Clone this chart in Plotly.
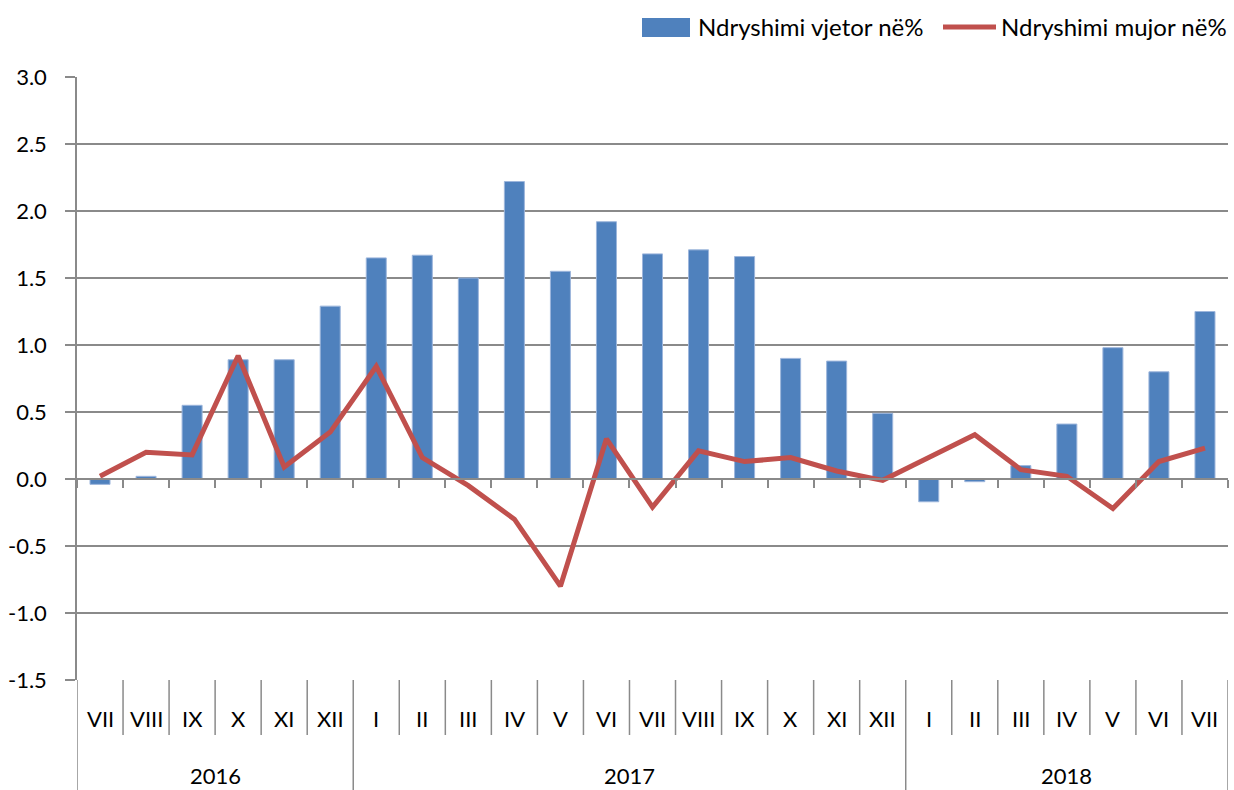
import plotly.graph_objects as go

# ---- data ----
months = ["VII", "VIII", "IX", "X", "XI", "XII",
          "I", "II", "III", "IV", "V", "VI", "VII", "VIII", "IX", "X", "XI", "XII",
          "I", "II", "III", "IV", "V", "VI", "VII"]
years = ["2016"] * 6 + ["2017"] * 12 + ["2018"] * 7
annual_change = [-0.04, 0.02, 0.55, 0.89, 0.89, 1.29,
                 1.65, 1.67, 1.50, 2.22, 1.55, 1.92, 1.68, 1.71, 1.66, 0.90, 0.88, 0.49,
                 -0.17, -0.02, 0.10, 0.41, 0.98, 0.80, 1.25]
monthly_change = [0.02, 0.20, 0.18, 0.92, 0.09, 0.35,
                  0.84, 0.16, -0.05, -0.30, -0.80, 0.30, -0.21, 0.21, 0.13, 0.16, 0.06, -0.01,
                  0.16, 0.33, 0.07, 0.02, -0.22, 0.13, 0.23]
y_ticks = [-1.5, -1.0, -0.5, 0.0, 0.5, 1.0, 1.5, 2.0, 2.5, 3.0]
legend_names = ["Ndryshimi vjetor në%", "Ndryshimi mujor në%"]

# ---- layout geometry ----
W, H = 1234, 790
L, R, T, B = 77, 1228, 77, 680
FONT = "Lato, sans-serif"
FS = 22
LFS = 24
GRID = "#8a8a8a"
BLUE = "#4F81BD"
RED = "#C0504D"


def xp(px):
    return (px - L) / (R - L)


def yp(py):
    return (B - py) / (B - T)


n = len(months)
xs = list(range(n))

fig = go.Figure()
fig.add_trace(go.Bar(x=xs, y=annual_change, name=legend_names[0],
                     marker=dict(color=BLUE, line=dict(color="#9db6dc", width=1)),
                     showlegend=False))
fig.add_trace(go.Scatter(x=xs, y=monthly_change, name=legend_names[1], mode="lines",
                         line=dict(color=RED, width=5), showlegend=False))

ymin, ymax = y_ticks[0], y_ticks[-1]

shapes = []
annotations = []

# category separators below plot
for i in range(n + 1):
    bx = i - 0.5
    if i == 0 or i == n or years[i] != years[i - 1]:
        y_end = yp(790)
    else:
        y_end = yp(735)
    shapes.append(dict(type="line", xref="x", yref="paper", x0=bx, x1=bx, y0=0, y1=y_end,
                       line=dict(color=GRID, width=1.5)))

# month labels
for i, m in enumerate(months):
    annotations.append(dict(x=i, y=yp(718), xref="x", yref="paper", text=m, showarrow=False,
                            font=dict(family=FONT, size=FS, color="black"),
                            xanchor="center", yanchor="middle"))

# year labels
year_order = []
for yv in years:
    if yv not in year_order:
        year_order.append(yv)
for yv in year_order:
    idx = [i for i, v in enumerate(years) if v == yv]
    cx = (idx[0] + idx[-1]) / 2
    annotations.append(dict(x=cx, y=yp(775), xref="x", yref="paper", text=yv, showarrow=False,
                            font=dict(family=FONT, size=FS, color="black"),
                            xanchor="center", yanchor="middle"))

# custom legend
shapes.append(dict(type="rect", xref="paper", yref="paper", x0=xp(642), x1=xp(690),
                   y0=yp(37), y1=yp(18), fillcolor=BLUE, line=dict(width=0)))
annotations.append(dict(x=xp(696), y=yp(27), xref="paper", yref="paper", text=legend_names[0],
                        showarrow=False, xanchor="left", yanchor="middle",
                        font=dict(family=FONT, size=LFS, color="black")))
shapes.append(dict(type="line", xref="paper", yref="paper", x0=xp(943), x1=xp(996),
                   y0=yp(27), y1=yp(27), line=dict(color=RED, width=5)))
annotations.append(dict(x=xp(999), y=yp(27), xref="paper", yref="paper", text=legend_names[1],
                        showarrow=False, xanchor="left", yanchor="middle",
                        font=dict(family=FONT, size=LFS, color="black")))

fig.update_layout(
    width=W, height=H,
    margin=dict(l=L, r=W - R, t=T, b=H - B, pad=0),
    paper_bgcolor="white", plot_bgcolor="white",
    bargap=0.565,
    shapes=shapes, annotations=annotations,
    xaxis=dict(range=[-0.5, n - 0.5], showgrid=False, zeroline=False,
               tickmode="array", tickvals=[i - 0.5 for i in range(n + 1)],
               showticklabels=False, ticks="outside", ticklen=8, tickwidth=1.5, tickcolor=GRID,
               showline=True, linecolor=GRID, linewidth=1.5,
               anchor="free", position=(0 - ymin) / (ymax - ymin), fixedrange=True),
    yaxis=dict(range=[ymin, ymax], tickmode="array", tickvals=y_ticks,
               ticktext=[f"{v:.1f}" for v in y_ticks],
               showgrid=True, gridcolor=GRID, gridwidth=1.5, zeroline=False,
               showline=True, linecolor=GRID, linewidth=1.5,
               ticks="outside", ticklen=10, tickwidth=1.5, tickcolor=GRID,
               ticklabelstandoff=14,
               tickfont=dict(family=FONT, size=FS, color="black"), fixedrange=True),
)

fig.write_html("out.html", config={"displayModeBar": False},
               post_script="document.body.style.margin='0';")
